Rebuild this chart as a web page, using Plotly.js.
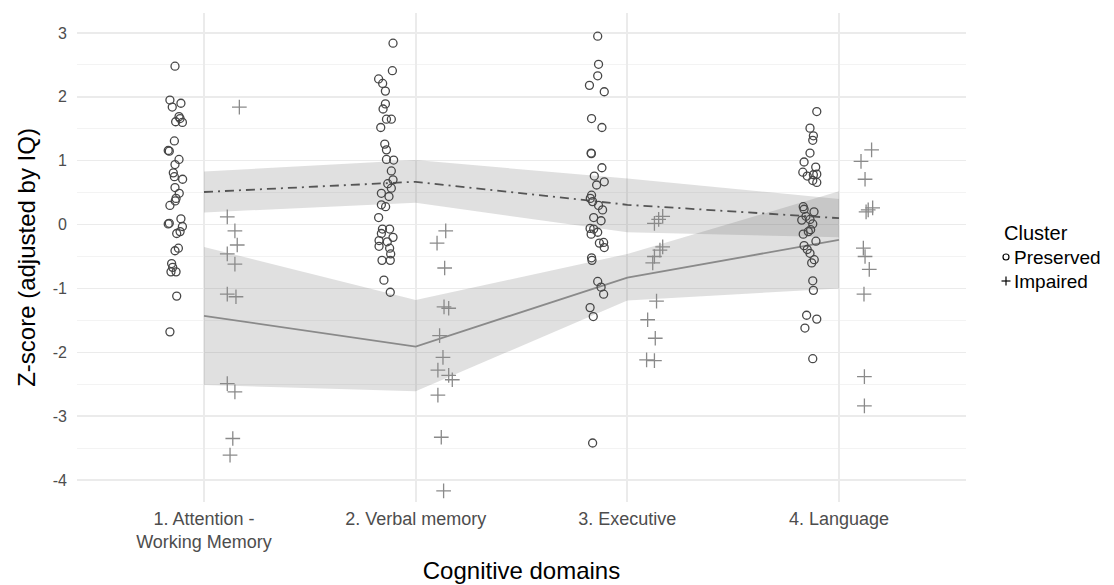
<!DOCTYPE html>
<html>
<head>
<meta charset="utf-8">
<script src="https://cdn.plot.ly/plotly-3.0.1.min.js"></script>
<style>
  html, body { margin: 0; padding: 0; background: #ffffff; }
  #chart { width: 1114px; height: 585px; }
</style>
</head>
<body>
<div id="chart"></div>
<script>
// ---- Categories / tick labels ----
const categories = ["1. Attention -<br>Working Memory", "2. Verbal memory", "3. Executive", "4. Language"];
const catPos = [1, 2, 3, 4];

// ---- Legend labels ----
const legendTitle = "Cluster";
const groupNames = ["Preserved", "Impaired"];

// ---- Summary lines (mean) and ribbons ----
const preservedMean  = [0.51, 0.67, 0.31, 0.10];
const preservedLower = [0.19, 0.34, -0.12, -0.20];
const preservedUpper = [0.83, 1.01, 0.72, 0.40];
const impairedMean   = [-1.43, -1.91, -0.83, -0.24];
const impairedLower  = [-2.51, -2.61, -1.19, -1.00];
const impairedUpper  = [-0.35, -1.18, -0.46, 0.52];

// ---- Individual points: values and jitter offsets ----
const prsv1 = [2.48, 1.95, 1.90, 1.84, 1.69, 1.66, 1.61, 1.60, 1.31, 1.16, 1.15, 1.02, 0.94, 0.81, 0.75, 0.71, 0.58, 0.49, 0.41, 0.37, 0.30, 0.02, 0.01, 0.09, -0.03, -0.11, -0.14, -0.37, -0.41, -0.61, -0.67, -0.74, -0.74, -1.12, -1.68];
const prsv1Jit = [-0.137, -0.161, -0.109, -0.150, -0.118, -0.113, -0.134, -0.102, -0.140, -0.169, -0.164, -0.118, -0.137, -0.145, -0.140, -0.101, -0.137, -0.117, -0.132, -0.136, -0.161, -0.164, -0.169, -0.109, -0.102, -0.113, -0.129, -0.121, -0.137, -0.153, -0.148, -0.132, -0.156, -0.129, -0.161];
const impr1 = [1.84, 0.12, -0.10, -0.32, -0.46, -0.62, -1.09, -1.13, -2.49, -2.62, -3.35, -3.61];
const impr1Jit = [0.167, 0.110, 0.146, 0.157, 0.110, 0.146, 0.110, 0.151, 0.110, 0.146, 0.136, 0.123];

const prsv2 = [2.84, 2.41, 2.28, 2.21, 2.09, 1.89, 1.81, 1.65, 1.65, 1.52, 1.26, 1.17, 1.02, 1.01, 0.84, 0.70, 0.64, 0.57, 0.49, 0.44, 0.31, 0.28, 0.11, -0.07, -0.07, -0.14, -0.20, -0.25, -0.27, -0.34, -0.37, -0.46, -0.56, -0.56, -0.87, -1.06];
const prsv2Jit = [-0.107, -0.110, -0.175, -0.156, -0.143, -0.143, -0.154, -0.138, -0.115, -0.165, -0.146, -0.138, -0.138, -0.104, -0.115, -0.107, -0.132, -0.115, -0.162, -0.126, -0.162, -0.142, -0.175, -0.157, -0.123, -0.162, -0.107, -0.173, -0.134, -0.173, -0.123, -0.118, -0.159, -0.120, -0.150, -0.120];
const impr2 = [-0.10, -0.29, -0.68, -1.29, -1.31, -1.74, -2.08, -2.28, -2.36, -2.43, -2.67, -3.33, -4.17];
const impr2Jit = [0.142, 0.101, 0.137, 0.134, 0.156, 0.113, 0.129, 0.105, 0.156, 0.173, 0.105, 0.121, 0.132];

const prsv3 = [2.95, 2.51, 2.33, 2.18, 2.08, 1.66, 1.52, 1.12, 1.11, 0.89, 0.76, 0.67, 0.62, 0.46, 0.41, 0.36, 0.30, 0.23, 0.11, 0.06, -0.06, -0.07, -0.12, -0.15, -0.29, -0.28, -0.36, -0.52, -0.56, -0.89, -0.98, -1.09, -1.30, -1.44, -3.42];
const prsv3Jit = [-0.140, -0.136, -0.140, -0.179, -0.109, -0.169, -0.120, -0.171, -0.170, -0.120, -0.156, -0.109, -0.145, -0.169, -0.175, -0.164, -0.136, -0.117, -0.159, -0.124, -0.176, -0.159, -0.140, -0.171, -0.132, -0.112, -0.109, -0.169, -0.167, -0.140, -0.124, -0.112, -0.176, -0.161, -0.164];
const impr3 = [0.13, 0.08, 0.02, -0.35, -0.40, -0.50, -0.60, -1.20, -1.49, -1.78, -2.12, -2.13];
const impr3Jit = [0.167, 0.148, 0.128, 0.167, 0.154, 0.128, 0.120, 0.138, 0.096, 0.132, 0.091, 0.128];

const prsv4 = [1.77, 1.51, 1.39, 1.32, 1.12, 0.98, 0.90, 0.82, 0.76, 0.78, 0.79, 0.69, 0.66, 0.28, 0.24, 0.20, 0.13, 0.07, 0.08, 0.01, -0.08, -0.15, -0.11, -0.26, -0.33, -0.39, -0.45, -0.55, -0.60, -0.88, -1.03, -1.42, -1.48, -1.62, -2.10];
const prsv4Jit = [-0.105, -0.137, -0.121, -0.124, -0.137, -0.165, -0.110, -0.171, -0.150, -0.121, -0.105, -0.124, -0.105, -0.169, -0.165, -0.118, -0.156, -0.176, -0.137, -0.124, -0.134, -0.169, -0.145, -0.109, -0.165, -0.150, -0.137, -0.117, -0.129, -0.124, -0.121, -0.153, -0.105, -0.161, -0.124];
const impr4 = [1.17, 0.99, 0.71, 0.26, 0.23, 0.20, -0.37, -0.50, -0.70, -1.09, -2.38, -2.84];
const impr4Jit = [0.154, 0.104, 0.123, 0.159, 0.138, 0.128, 0.115, 0.123, 0.143, 0.118, 0.120, 0.120];

const yTickVals = [-4, -3, -2, -1, 0, 1, 2, 3];
const yTickText = ["-4", "-3", "-2", "-1", "0", "1", "2", "3"];

// ---- Build point coordinates ----
function buildPoints(valueSets, jitSets) {
  const xs = [], ys = [];
  valueSets.forEach((vals, i) => {
    vals.forEach((v, j) => { xs.push(catPos[i] + jitSets[i][j]); ys.push(v); });
  });
  return { x: xs, y: ys };
}
const prsvPts = buildPoints([prsv1, prsv2, prsv3, prsv4], [prsv1Jit, prsv2Jit, prsv3Jit, prsv4Jit]);
const imprPts = buildPoints([impr1, impr2, impr3, impr4], [impr1Jit, impr2Jit, impr3Jit, impr4Jit]);

const ribbonFill = 'rgba(100,100,100,0.2)';
const baseFont = 'Liberation Sans, Arial, Helvetica, sans-serif';
const prsvColor = '#474747';
const imprColor = '#8a8a8a';

const traces = [
  { x: catPos, y: preservedUpper, type: 'scatter', mode: 'lines', line: { width: 0 }, showlegend: false, hoverinfo: 'skip' },
  { x: catPos, y: preservedLower, type: 'scatter', mode: 'lines', line: { width: 0 }, fill: 'tonexty', fillcolor: ribbonFill, showlegend: false, hoverinfo: 'skip' },
  { x: catPos, y: impairedUpper, type: 'scatter', mode: 'lines', line: { width: 0 }, showlegend: false, hoverinfo: 'skip' },
  { x: catPos, y: impairedLower, type: 'scatter', mode: 'lines', line: { width: 0 }, fill: 'tonexty', fillcolor: ribbonFill, showlegend: false, hoverinfo: 'skip' },
  { x: catPos, y: preservedMean, type: 'scatter', mode: 'lines', line: { color: '#555555', width: 1.8, dash: '9px,5px,2px,5px' }, showlegend: false },
  { x: catPos, y: impairedMean, type: 'scatter', mode: 'lines', line: { color: imprColor, width: 1.8 }, showlegend: false },
  { x: prsvPts.x, y: prsvPts.y, type: 'scatter', mode: 'markers', name: groupNames[0], showlegend: false,
    marker: { symbol: 'circle-open', size: 8, color: prsvColor, line: { width: 1.3, color: prsvColor } } },
  { x: imprPts.x, y: imprPts.y, type: 'scatter', mode: 'markers', name: groupNames[1], showlegend: false,
    marker: { symbol: 'cross-thin-open', size: 10.5, color: imprColor, line: { width: 1.3, color: imprColor } } }
];

// ---- Hand-built legend (ggplot style) ----
const plotL = 77, plotR = 966, plotT = 13, plotB = 502;
const px2x = p => (p - plotL) / (plotR - plotL);
const px2y = p => (plotB - p) / (plotB - plotT);
const legIconX = px2x(1006);
const legTextX = px2x(1012);
const legTitleY = px2y(233);
const legRows = [px2y(257), px2y(281)];

const annotations = [
  { xref: 'paper', yref: 'paper', x: px2x(1002), y: legTitleY, xanchor: 'left', yanchor: 'middle', showarrow: false,
    text: legendTitle, font: { size: 20, color: '#000000', family: baseFont } },
  { xref: 'paper', yref: 'paper', x: legTextX, y: legRows[0], xanchor: 'left', yanchor: 'middle', showarrow: false,
    text: groupNames[0], font: { size: 19, color: '#000000', family: baseFont } },
  { xref: 'paper', yref: 'paper', x: legTextX, y: legRows[1], xanchor: 'left', yanchor: 'middle', showarrow: false,
    text: groupNames[1], font: { size: 19, color: '#000000', family: baseFont } }
];
const shapes = [
  { type: 'circle', xref: 'paper', yref: 'paper', xsizemode: 'pixel', ysizemode: 'pixel',
    xanchor: legIconX, yanchor: legRows[0], x0: -3, x1: 3, y0: -3, y1: 3,
    line: { color: '#000000', width: 1.2 }, fillcolor: 'rgba(0,0,0,0)' },
  { type: 'line', xref: 'paper', yref: 'paper', xsizemode: 'pixel', ysizemode: 'pixel',
    xanchor: legIconX, yanchor: legRows[1], x0: -4.5, x1: 4.5, y0: 0, y1: 0, line: { color: '#000000', width: 1.2 } },
  { type: 'line', xref: 'paper', yref: 'paper', xsizemode: 'pixel', ysizemode: 'pixel',
    xanchor: legIconX, yanchor: legRows[1], x0: 0, x1: 0, y0: -4.5, y1: 4.5, line: { color: '#000000', width: 1.2 } }
];

const layout = {
  width: 1114, height: 585,
  margin: { l: plotL, r: 1114 - plotR, t: plotT, b: 585 - plotB },
  paper_bgcolor: '#ffffff', plot_bgcolor: '#ffffff',
  font: { family: baseFont, color: '#000000' },
  showlegend: false,
  annotations: annotations,
  shapes: shapes,
  xaxis: {
    range: [0.4, 4.6], tickvals: catPos, ticktext: categories,
    showgrid: true, gridcolor: '#ebebeb', gridwidth: 2, zeroline: false, showline: false, ticks: '',
    tickfont: { family: baseFont, size: 18, color: '#4d4d4d' },
    ticklabelstandoff: 4,
    title: { text: 'Cognitive domains', font: { size: 24, color: '#000000', family: baseFont }, standoff: 10 },
    automargin: false
  },
  yaxis: {
    range: [-4.344, 3.313], tickvals: yTickVals, ticktext: yTickText,
    showgrid: true, gridcolor: '#ebebeb', gridwidth: 1.5, zeroline: false, showline: false, ticks: '',
    minor: { dtick: 0.5, tick0: 0.5, showgrid: true, gridcolor: '#f3f3f3', gridwidth: 1, ticks: '' },
    tickfont: { size: 16, color: '#4d4d4d', family: baseFont },
    ticklabelstandoff: 9,
    title: { text: 'Z-score (adjusted by IQ)', font: { size: 24, color: '#000000', family: baseFont }, standoff: 10 },
    automargin: false
  }
};

Plotly.newPlot('chart', traces, layout, { displayModeBar: false, staticPlot: true });
</script>
</body>
</html>
